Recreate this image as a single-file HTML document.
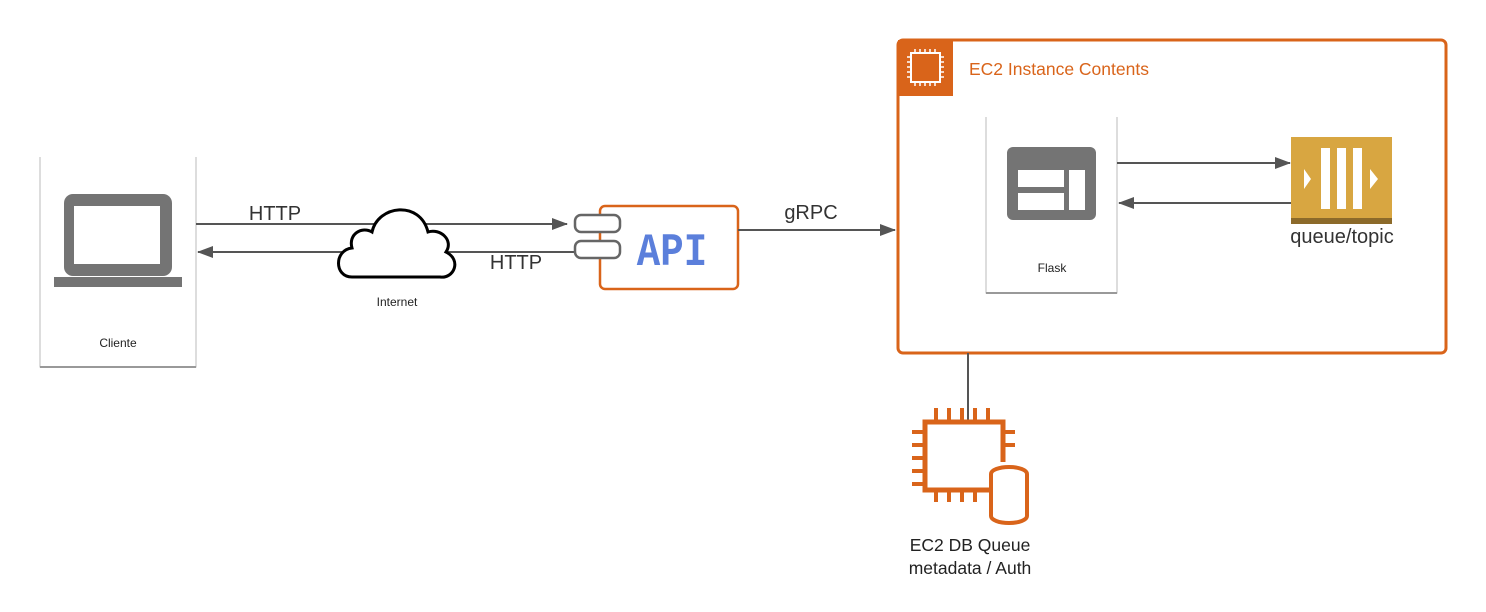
<!DOCTYPE html>
<html><head><meta charset="utf-8"><style>
html,body{margin:0;padding:0;background:#fff}
svg{display:block;font-family:"Liberation Sans",sans-serif}
</style></head><body>
<svg width="1486" height="612" viewBox="0 0 1486 612" xmlns="http://www.w3.org/2000/svg">
<defs>
<marker id="ah" markerWidth="16" markerHeight="12" refX="15" refY="6" orient="auto" markerUnits="userSpaceOnUse">
<path d="M0,0 L16,6 L0,12 Z" fill="#555"/></marker>
</defs>
<!-- Cliente -->
<path d="M40,157 V367 H196 V157" fill="none" stroke="#bbb" stroke-width="1"/>
<line x1="40" y1="367" x2="196" y2="367" stroke="#999" stroke-width="2"/>
<rect x="64" y="194" width="108" height="82" rx="9" fill="#747474"/>
<rect x="74" y="206" width="86" height="58" fill="#fff"/>
<rect x="54" y="277" width="128" height="10" fill="#747474"/>
<text x="118" y="347" font-size="12" text-anchor="middle" fill="#222">Cliente</text>
<!-- HTTP arrows -->
<line x1="196" y1="224" x2="567" y2="224" stroke="#555" stroke-width="2" marker-end="url(#ah)"/>
<line x1="575" y1="252" x2="198" y2="252" stroke="#555" stroke-width="2" marker-end="url(#ah)"/>
<text x="275" y="220" font-size="20" text-anchor="middle" fill="#333">HTTP</text>
<text x="516" y="269" font-size="20" text-anchor="middle" fill="#333">HTTP</text>
<!-- cloud -->
<path d="M352,277 C334,277 334,250 352,248 C348,234 362,226 372,232 C378,205 420,200 428,232 C440,228 454,240 446,252 C462,260 454,279 440,277 Z" fill="#fff" stroke="#000" stroke-width="3"/>
<text x="397" y="306" font-size="12" text-anchor="middle" fill="#222">Internet</text>
<!-- API -->
<rect x="600" y="206" width="138" height="83" rx="5" fill="#fff" stroke="#d9641a" stroke-width="2.5"/>
<rect x="575" y="215" width="45" height="17" rx="6" fill="#fff" stroke="#666" stroke-width="2.5"/>
<rect x="575" y="241" width="45" height="17" rx="6" fill="#fff" stroke="#666" stroke-width="2.5"/>
<text x="672" y="265" font-size="46" font-weight="bold" text-anchor="middle" fill="#5b7fdb" font-family="Liberation Mono,monospace" transform="translate(672 0) scale(0.85 1) translate(-672 0)">API</text>
<!-- gRPC -->
<line x1="738" y1="230" x2="895" y2="230" stroke="#555" stroke-width="2" marker-end="url(#ah)"/>
<text x="811" y="219" font-size="20" text-anchor="middle" fill="#333">gRPC</text>
<!-- EC2 box -->
<rect x="898" y="40" width="548" height="313" rx="5" fill="#fff" stroke="#d9641a" stroke-width="3"/>
<rect x="898" y="40" width="55" height="56" fill="#d9641a"/>
<rect x="911" y="53" width="29" height="29" fill="none" stroke="#fff" stroke-width="2"/>
<path d="M915,49v4M920,49v4M925,49v4M930,49v4M935,49v4M915,82v4M920,82v4M925,82v4M930,82v4M935,82v4M907,57h4M907,62h4M907,67h4M907,72h4M907,77h4M940,57h4M940,62h4M940,67h4M940,72h4M940,77h4" stroke="#fff" stroke-width="1.5"/>
<text x="969" y="75" font-size="17.5" fill="#d9641a">EC2 Instance Contents</text>
<!-- Flask -->
<path d="M986,117 V293 H1117 V117" fill="none" stroke="#bbb" stroke-width="1"/>
<line x1="986" y1="293" x2="1117" y2="293" stroke="#999" stroke-width="2"/>
<rect x="1007" y="147" width="89" height="73" rx="6" fill="#747474"/>
<rect x="1018" y="170" width="46" height="17" fill="#fff"/>
<rect x="1018" y="193" width="46" height="17" fill="#fff"/>
<rect x="1069" y="170" width="16" height="40" fill="#fff"/>
<text x="1052" y="272" font-size="12" text-anchor="middle" fill="#222">Flask</text>
<line x1="1117" y1="163" x2="1290" y2="163" stroke="#555" stroke-width="2" marker-end="url(#ah)"/>
<line x1="1291" y1="203" x2="1119" y2="203" stroke="#555" stroke-width="2" marker-end="url(#ah)"/>
<!-- queue -->
<rect x="1291" y="137" width="101" height="82" fill="#d8a641"/>
<rect x="1291" y="218" width="101" height="6" fill="#8c6a2a"/>
<rect x="1321" y="148" width="9" height="61" fill="#fff"/>
<rect x="1337" y="148" width="9" height="61" fill="#fff"/>
<rect x="1353" y="148" width="9" height="61" fill="#fff"/>
<path d="M1304,169 L1311,179 L1304,189 Z M1370,169 L1378,179 L1370,189 Z" fill="#fff"/>
<text x="1342" y="243" font-size="20" text-anchor="middle" fill="#333">queue/topic</text>
<!-- DB -->
<line x1="968" y1="353" x2="968" y2="420" stroke="#555" stroke-width="2"/>
<path d="M992,490 H925 V422 H1003 V462" fill="none" stroke="#d9641a" stroke-width="5"/>
<path d="M936,420v-12M949,420v-12M962,420v-12M975,420v-12M988,420v-12M936,492v10M949,492v10M962,492v10M975,492v10M912,432h11M912,445h11M912,458h11M912,471h11M912,484h11M1003,432h12M1003,445h12" stroke="#d9641a" stroke-width="4"/>
<ellipse cx="1009" cy="474" rx="18" ry="7" fill="#fff" stroke="#d9641a" stroke-width="4"/>
<path d="M991,474 V516 A18,7 0 0 0 1027,516 V474" fill="#fff" stroke="#d9641a" stroke-width="4"/>
<text x="970" y="551" font-size="17.5" text-anchor="middle" fill="#222">EC2 DB Queue</text>
<text x="970" y="574" font-size="17.5" text-anchor="middle" fill="#222">metadata / Auth</text>
</svg>
</body></html>
